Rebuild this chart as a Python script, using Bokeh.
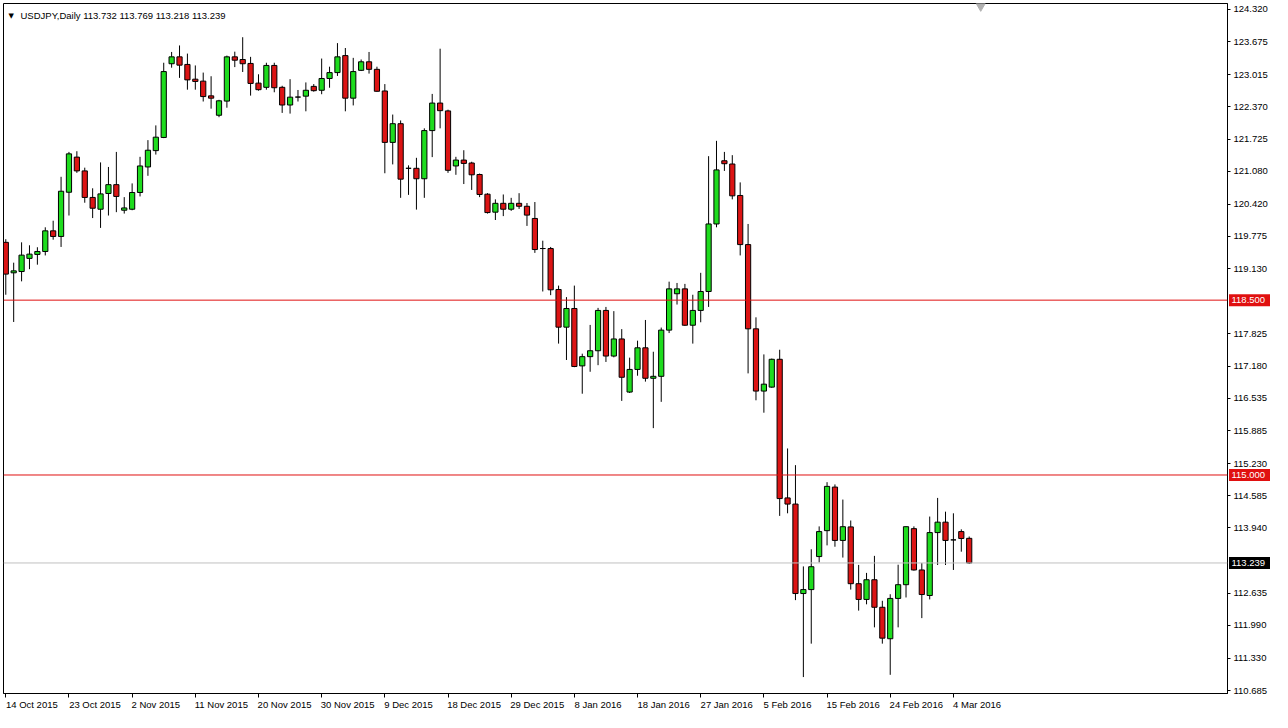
from bokeh.plotting import figure
from bokeh.models import (FixedTicker, Span, Label, Range1d, PrintfTickFormatter,
                          ColumnDataSource, LinearAxis)
from bokeh.core.properties import value
from bokeh.embed import file_html
from bokeh.resources import INLINE

# ---------------- data (USDJPY daily) ----------------
opens = [119.657, 119.047, 119.073, 119.336, 119.415, 119.474, 119.887, 119.775, 120.660, 121.363,
         121.087, 120.556, 120.320, 120.635, 120.812, 120.300, 120.320, 120.655, 121.166, 121.493,
         121.756, 123.232, 123.370, 123.218, 122.923, 122.884, 122.589, 122.201, 122.484, 123.370,
         123.317, 123.238, 122.844, 122.760, 123.198, 122.760, 122.406, 122.565, 122.583, 122.779,
         122.701, 122.937, 123.055, 123.395, 122.543, 123.100, 123.271, 123.120, 122.687, 121.658,
         122.032, 121.139, 121.139, 120.930, 121.894, 122.445, 122.288, 121.186, 121.304, 121.245,
         121.015, 120.621, 120.261, 120.438, 120.320, 120.438, 120.379, 120.135, 119.533, 119.533,
         118.713, 117.959, 118.333, 117.184, 117.369, 117.487, 118.294, 117.381, 117.723, 116.660,
         117.113, 117.546, 116.936, 116.975, 117.900, 118.628, 118.726, 117.998, 118.294, 118.673,
         120.025, 121.290, 121.225, 120.595, 119.612, 117.926, 116.680, 116.759, 117.316, 114.541,
         114.418, 112.627, 112.706, 113.367, 113.886, 114.758, 113.690, 113.961, 112.824, 112.509,
         112.903, 112.352, 111.722, 112.529, 112.804, 113.926, 113.099, 112.588, 113.847, 114.056,
         113.701, 113.867, 113.732]
highs = [119.720, 119.250, 119.657, 119.598, 119.559, 119.958, 120.090, 120.969, 121.467, 121.481,
         121.152, 120.739, 121.257, 121.166, 121.467, 120.562, 120.837, 121.369, 121.703, 121.998,
         123.252, 123.468, 123.598, 123.435, 123.198, 123.055, 122.982, 122.510, 123.395, 123.474,
         123.763, 123.370, 123.021, 123.252, 123.252, 122.791, 122.923, 122.707, 122.858, 122.825,
         123.336, 123.173, 123.645, 123.547, 123.350, 123.317, 123.468, 123.173, 122.825, 122.215,
         122.097, 121.198, 121.349, 121.939, 122.628, 123.533, 122.313, 121.369, 121.501, 121.270,
         121.034, 120.641, 120.517, 120.615, 120.548, 120.641, 120.444, 120.464, 119.690, 119.565,
         118.791, 118.561, 118.791, 117.428, 118.004, 118.345, 118.364, 118.280, 117.920, 117.349,
         117.689, 118.103, 117.467, 117.951, 118.870, 118.844, 118.825, 118.608, 119.047, 121.382,
         121.689, 121.467, 121.402, 120.857, 120.025, 118.156, 117.414, 117.330, 117.507, 115.531,
         115.197, 113.170, 113.513, 113.971, 114.856, 114.811, 114.508, 114.089, 113.200, 113.040,
         113.381, 112.482, 112.613, 113.204, 113.971, 113.971, 113.237, 114.168, 114.541, 114.266,
         114.233, 113.912, 113.769]
lows = [118.608, 118.063, 118.876, 119.120, 119.210, 119.395, 119.710, 119.565, 120.194, 121.048,
        120.450, 120.143, 119.946, 120.194, 120.261, 120.233, 120.300, 120.576, 120.989, 121.414,
        121.743, 123.153, 122.949, 122.713, 122.713, 122.476, 122.333, 122.162, 122.352, 123.165,
        123.067, 122.594, 122.693, 122.713, 122.661, 122.248, 122.234, 122.476, 122.280, 122.673,
        122.622, 122.752, 122.988, 122.280, 122.398, 123.086, 123.035, 122.673, 121.040, 121.217,
        120.548, 120.607, 120.312, 120.548, 121.363, 121.939, 121.048, 121.009, 120.824, 120.706,
        120.562, 120.233, 120.104, 120.182, 120.287, 120.326, 119.986, 119.446, 118.673, 118.600,
        117.630, 117.302, 117.158, 116.627, 117.066, 117.198, 117.263, 117.355, 116.483, 116.641,
        116.987, 116.869, 115.938, 116.464, 117.841, 118.412, 117.985, 117.630, 118.057, 118.364,
        119.958, 121.087, 120.517, 119.395, 117.034, 116.495, 116.247, 116.745, 114.181, 114.233,
        112.495, 110.955, 111.624, 113.249, 113.591, 113.564, 113.347, 112.706, 112.285, 112.411,
        111.950, 111.624, 111.000, 111.950, 112.548, 113.086, 112.135, 112.509, 113.198, 113.198,
        113.099, 113.465, 113.218]
closes = [119.021, 119.086, 119.401, 119.421, 119.474, 119.887, 119.775, 120.680, 121.428, 121.087,
          120.556, 120.340, 120.627, 120.812, 120.576, 120.346, 120.655, 121.186, 121.501, 121.762,
          123.075, 123.370, 123.204, 122.909, 122.878, 122.575, 122.543, 122.490, 123.370, 123.303,
          123.232, 122.838, 122.713, 123.198, 122.752, 122.406, 122.563, 122.565, 122.701, 122.693,
          122.937, 123.055, 123.370, 122.543, 123.075, 123.271, 123.120, 122.681, 121.658, 122.032,
          120.922, 121.139, 120.930, 121.894, 122.445, 122.293, 121.099, 121.304, 121.237, 121.009,
          120.615, 120.253, 120.438, 120.320, 120.438, 120.379, 120.202, 119.513, 119.533, 118.707,
          117.959, 118.333, 117.172, 117.369, 117.487, 118.294, 117.381, 117.723, 116.956, 117.113,
          117.546, 116.936, 116.975, 117.900, 118.726, 118.726, 117.998, 118.294, 118.673, 120.025,
          121.107, 121.231, 120.588, 119.612, 117.926, 116.680, 116.818, 117.316, 114.528, 114.418,
          112.627, 112.706, 113.164, 113.867, 114.772, 113.690, 113.965, 112.824, 112.509, 112.903,
          112.352, 111.734, 112.529, 112.804, 113.965, 113.099, 112.607, 113.847, 114.056, 113.690,
          113.701, 113.729, 113.239]

date_labels = ["14 Oct 2015", "23 Oct 2015", "2 Nov 2015", "11 Nov 2015", "20 Nov 2015",
               "30 Nov 2015", "9 Dec 2015", "18 Dec 2015", "29 Dec 2015", "8 Jan 2016",
               "18 Jan 2016", "27 Jan 2016", "5 Feb 2016", "15 Feb 2016", "24 Feb 2016",
               "4 Mar 2016"]
date_label_bars = [0, 8, 16, 24, 32, 40, 48, 56, 64, 72, 80, 88, 96, 104, 112, 120]
price_ticks = [124.320, 123.675, 123.015, 122.370, 121.725, 121.080, 120.420, 119.775, 119.130,
               117.825, 117.180, 116.535, 115.885, 115.230, 114.585, 113.940, 112.635, 111.990,
               111.330, 110.685]
level_lines = [118.500, 115.000]
header = "USDJPY,Daily  113.732 113.769 113.218 113.239"
last_price = 113.239

# ---------------- styles ----------------
FONT = "Liberation Sans"
FS = "9.5px"
UP = "#1EDC1E"
DOWN = "#DC1414"
LEVEL = "#E01010"

W, H = 1272, 712
BL, BT, BR = 3, 3, 45
X0, X1 = -0.29, 154.71
Y0, Y1 = 110.626, 124.438

idx = list(range(len(opens)))
tops = [max(o, c) for o, c in zip(opens, closes)]
bots = [min(o, c) for o, c in zip(opens, closes)]
cols = [UP if c > o else (DOWN if c < o else "black") for o, c in zip(opens, closes)]
src = ColumnDataSource(dict(x=idx, o=opens, h=highs, l=lows, c=closes, t=tops, b=bots, col=cols))

p = figure(width=W, height=H, output_backend="svg", toolbar_location=None,
           x_range=Range1d(X0, X1), y_range=Range1d(Y0, Y1),
           x_axis_location="below", y_axis_location="right",
           min_border_left=BL, min_border_top=BT, min_border_right=BR, min_border_bottom=0)
p.grid.visible = False
p.outline_line_color = "black"
p.outline_line_width = 1
p.background_fill_color = "white"
p.border_fill_color = "white"

FW = W - BL - BR
PXB = FW / (X1 - X0)          # pixels per bar

# horizontal level lines
for lv in level_lines:
    p.add_layout(Span(location=lv, dimension="width", line_color=LEVEL, line_width=1))
p.add_layout(Span(location=last_price, dimension="width", line_color="#C0C0C0", line_width=1))

# candles
p.segment(x0="x", y0="l", x1="x", y1="h", source=src, line_color="black", line_width=1)
p.vbar(x="x", width=0.66, top="t", bottom="b", source=src, fill_color="col",
       line_color="black", line_width=1)

# shift marker
p.scatter(x=[123.46], y=[124.385], marker="inverted_triangle", size=9,
          fill_color="#B0B0B0", line_color="#B0B0B0")

# bottom axis: tick marks at the bars
xa = p.xaxis[0]
xa.ticker = FixedTicker(ticks=date_label_bars)
xa.major_tick_out = 4
xa.major_tick_in = 0
xa.minor_tick_out = 0
xa.minor_tick_in = 0
xa.axis_line_color = "black"
xa.major_label_standoff = 0
xa.major_label_text_font_size = "0px"
xa.major_label_text_alpha = 0

# second bottom axis: date texts, left-aligned on the tick marks
lab_pos = [round(b + 0.3 * len(s), 2) for b, s in zip(date_label_bars, date_labels)]
xb = LinearAxis(ticker=FixedTicker(ticks=lab_pos),
                major_label_overrides={pp: s for pp, s in zip(lab_pos, date_labels)},
                major_tick_out=0, major_tick_in=0, minor_tick_out=0, minor_tick_in=0,
                axis_line_color=None, major_label_standoff=1,
                major_label_text_font=FONT, major_label_text_font_size=FS,
                major_label_text_color="black")
p.add_layout(xb, "below")

ya = p.yaxis[0]
ya.ticker = FixedTicker(ticks=price_ticks)
ya.formatter = PrintfTickFormatter(format="%.3f")
ya.major_tick_out = 3
ya.major_tick_in = 0
ya.minor_tick_out = 0
ya.minor_tick_in = 0
ya.axis_line_color = "black"
ya.major_label_standoff = 3
ya.major_label_text_font = FONT
ya.major_label_text_font_size = FS
ya.major_label_text_color = "black"

# price boxes on the right axis (overlay level: drawn outside the frame)
box_vals = [level_lines[0], level_lines[1], last_price]
box_cols = [LEVEL, LEVEL, "black"]
box_src = ColumnDataSource(dict(
    x=[X1 + 22 / PXB] * 3, tx=[X1 + 4 / PXB] * 3, y=box_vals,
    txt=[f"{v:.3f}" for v in box_vals], col=box_cols))
p.rect(x="x", y="y", width=41, height=12, width_units="screen", height_units="screen",
       source=box_src, fill_color="col", line_color=None, level="overlay")
p.text(x="tx", y="y", text="txt", source=box_src, text_color="white",
       text_font=value(FONT), text_font_size=FS, text_baseline="middle",
       text_align="left", level="overlay")

# header
FH = H - BT - 22
p.add_layout(Label(x=5, y=FH - 9, x_units="screen", y_units="screen", text="▼",
                   text_font="DejaVu Sans", text_font_size="7px", text_color="black",
                   text_baseline="middle", text_align="left"))
p.add_layout(Label(x=17, y=FH - 9, x_units="screen", y_units="screen", text=header,
                   text_font=FONT, text_font_size=FS, text_color="black",
                   text_baseline="middle", text_align="left"))

open("out.html", "w").write(file_html(p, INLINE))
